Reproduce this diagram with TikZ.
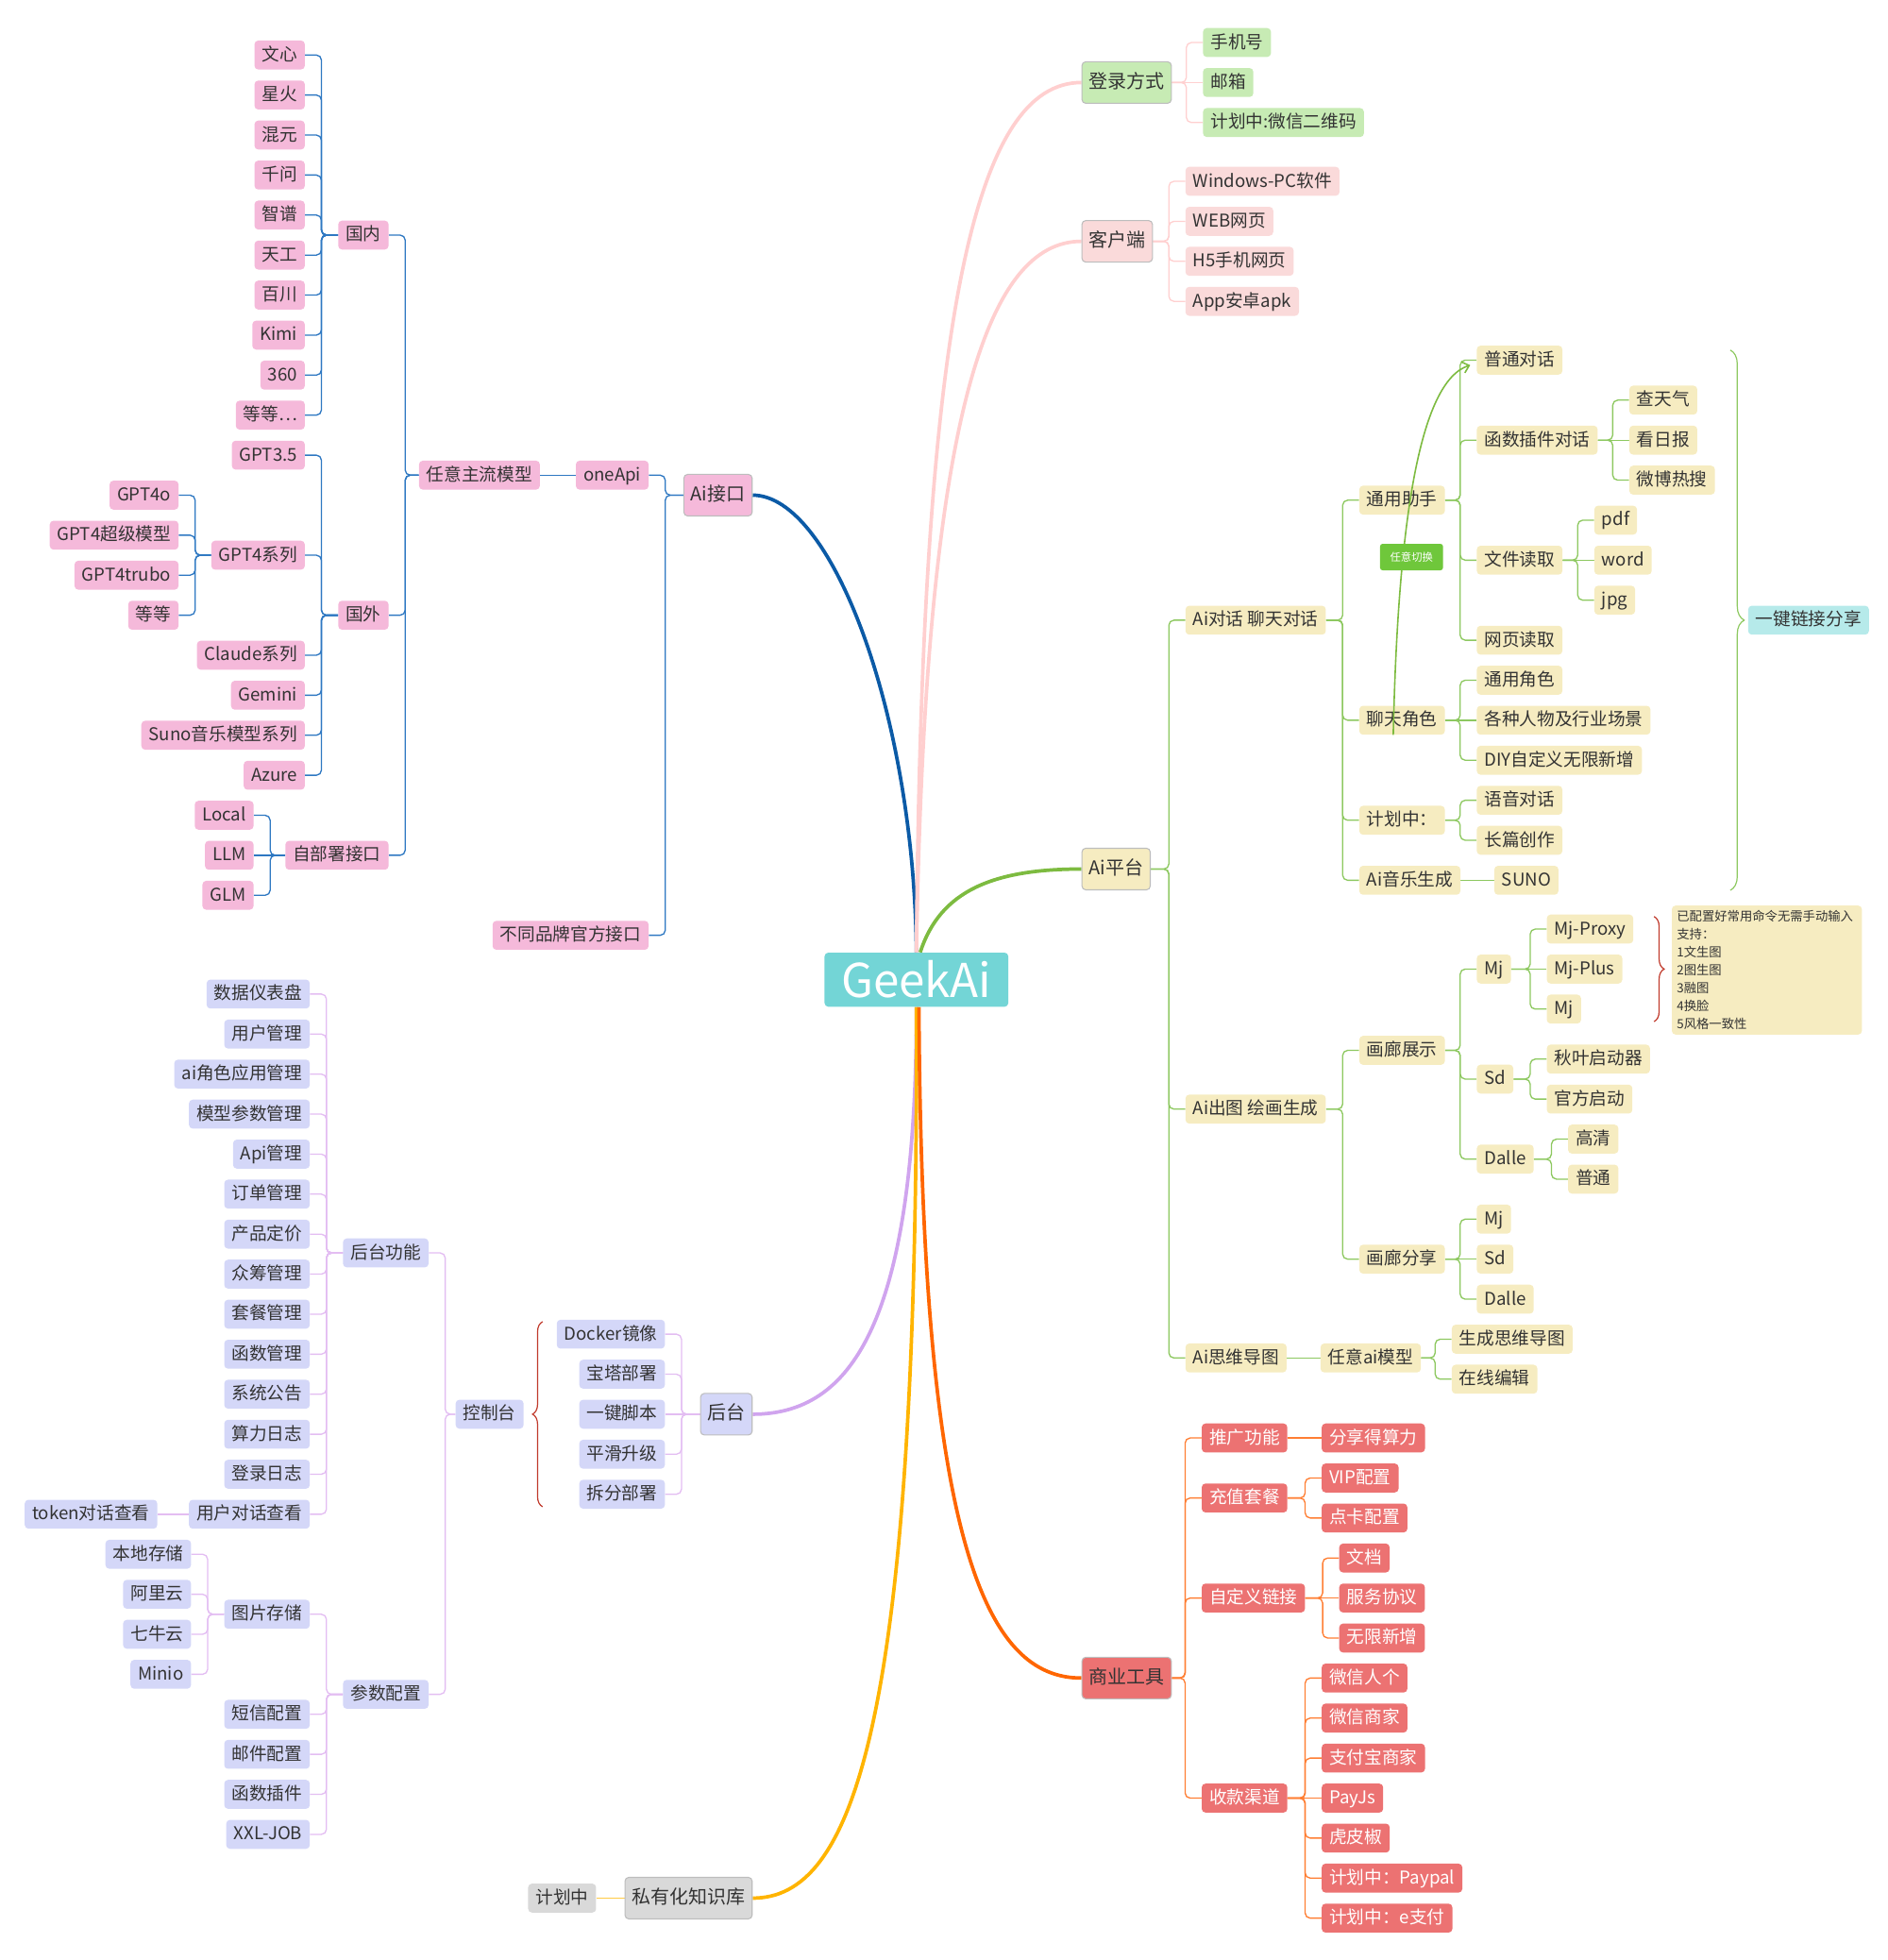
\documentclass[tikz,border=0pt]{standalone}
\usepackage{fontspec}
\setmainfont{Noto Sans CJK SC}
\usetikzlibrary{decorations.pathreplacing,arrows.meta,backgrounds}
\definecolor{txt}{HTML}{333333}
\definecolor{pkF}{HTML}{F5B9DA}
\definecolor{pkL}{HTML}{2E78C2}
\definecolor{pkM}{HTML}{0B5AA6}
\definecolor{lvF}{HTML}{D4D7F8}
\definecolor{lvL}{HTML}{E3BDF2}
\definecolor{lvM}{HTML}{D0A4EE}
\definecolor{gyF}{HTML}{D9D9D9}
\definecolor{gyL}{HTML}{FFCB45}
\definecolor{gyM}{HTML}{FFB400}
\definecolor{gnF}{HTML}{C7EBB4}
\definecolor{lpF}{HTML}{FADADA}
\definecolor{lpL}{HTML}{FFD0D0}
\definecolor{lpM}{HTML}{FFCFCF}
\definecolor{bgF}{HTML}{F6ECC1}
\definecolor{bgL}{HTML}{8DC860}
\definecolor{bgM}{HTML}{7DBB40}
\definecolor{rdF}{HTML}{EC7272}
\definecolor{rdL}{HTML}{FF7E33}
\definecolor{rdM}{HTML}{FF6600}
\definecolor{cyF}{HTML}{B6EAEA}
\definecolor{swF}{HTML}{6FC73B}
\definecolor{geekF}{HTML}{73D5D6}
\definecolor{brR}{HTML}{C0392B}
\definecolor{bdr}{HTML}{BDBDBD}
\newcommand\mkE[4]{\node[#1,anchor=east] (#2) at #3 {#4};}
\newcommand\mkW[4]{\node[#1,anchor=west] (#2) at #3 {#4};}
\newcommand\lnL[3]{\draw[#1] (#2.west) -| ([xshift=13pt]#3.east) -- (#3.east);}
\newcommand\lnR[3]{\draw[#1] (#2.east) -| ([xshift=-13pt]#3.west) -- (#3.west);}
\newcommand\lnLs[3]{\draw[#1] (#2.west) -- (#3.east);}
\newcommand\lnRs[3]{\draw[#1] (#2.east) -- (#3.west);}
\begin{document}
\begin{tikzpicture}[x=0.9933pt,y=-0.9933pt,
  box/.style={rectangle,rounded corners=3pt,inner xsep=6pt,inner ysep=0pt,minimum height=23pt,text height=11.5pt,text depth=2.5pt,font=\fontsize{14}{16}\selectfont,text=txt},
  mainbox/.style={box,draw=bdr,line width=0.8pt,minimum height=33pt,inner xsep=5.5pt,font=\fontsize{15}{17}\selectfont},
  pk/.style={box,fill=pkF},
  lv/.style={box,fill=lvF},
  gy/.style={box,fill=gyF},
  gn/.style={box,fill=gnF},
  lp/.style={box,fill=lpF},
  bg/.style={box,fill=bgF},
  rd/.style={box,fill=rdF,text=white},
  cy/.style={box,fill=cyF},
  thin/.style={line width=1pt,rounded corners=4pt},
  lnpk/.style={thin,draw=pkL},
  lnlv/.style={thin,draw=lvL},
  lngy/.style={thin,draw=gyL},
  lnlp/.style={thin,draw=lpL},
  lnbg/.style={thin,draw=bgL},
  lnrd/.style={thin,draw=rdL},
  mainln/.style={line width=2.8pt},
  bracestyle/.style={decorate,line width=0.9pt}
]
\useasboundingbox (0,0) rectangle (1510.1,1567.5);

% centre
\node[fill=geekF,text=white,rounded corners=3pt,minimum width=146pt,minimum height=43pt,inner sep=0pt,font=\fontsize{37}{40}\selectfont] (geek) at (733,783.5) {GeekAi};

% ---------- Ai接口 ----------
\mkE{pk,mainbox,fill=pkF}{aijk}{(602,396)}{Ai接口}
\mkE{pk}{oneapi}{(519,380)}{oneApi}
\mkE{pk}{butong}{(519,748)}{不同品牌官方接口}
\mkE{pk}{renyi}{(432,380)}{任意主流模型}
\mkE{pk}{guonei}{(311,188)}{国内}
\mkE{pk}{guowai}{(311,492)}{国外}
\mkE{pk}{zibu}{(311,684)}{自部署接口}
\mkE{pk}{wenxin}{(244,44)}{文心}
\mkE{pk}{xinghuo}{(244,76)}{星火}
\mkE{pk}{hunyuan}{(244,108)}{混元}
\mkE{pk}{qianwen}{(244,140)}{千问}
\mkE{pk}{zhipu}{(244,172)}{智谱}
\mkE{pk}{tiangong}{(244,204)}{天工}
\mkE{pk}{baichuan}{(244,236)}{百川}
\mkE{pk}{kimi}{(244,268)}{Kimi}
\mkE{pk}{sanliu}{(244,300)}{360}
\mkE{pk}{dengA}{(244,332)}{等等…}
\mkE{pk}{gptA}{(244,364)}{GPT3.5}
\mkE{pk}{gptB}{(244,444)}{GPT4系列}
\mkE{pk}{claude}{(244,524)}{Claude系列}
\mkE{pk}{gemini}{(244,556)}{Gemini}
\mkE{pk}{sunoA}{(244,588)}{Suno音乐模型系列}
\mkE{pk}{azure}{(244,620)}{Azure}
\mkE{pk}{gptC}{(143,396)}{GPT4o}
\mkE{pk}{gptD}{(143,428)}{GPT4超级模型}
\mkE{pk}{gptE}{(143,460)}{GPT4trubo}
\mkE{pk}{dengB}{(143,492)}{等等}
\mkE{pk}{local}{(203,652)}{Local}
\mkE{pk}{llm}{(203,684)}{LLM}
\mkE{pk}{glm}{(203,716)}{GLM}

% ---------- 后台 ----------
\mkE{lv,mainbox,fill=lvF}{houtai}{(602,1131)}{后台}
\mkE{lv}{docker}{(532,1067)}{Docker镜像}
\mkE{lv}{baota}{(532,1099)}{宝塔部署}
\mkE{lv}{yijian}{(532,1131)}{一键脚本}
\mkE{lv}{pinghua}{(532,1163)}{平滑升级}
\mkE{lv}{chaifen}{(532,1195)}{拆分部署}
\mkE{lv}{kongzhi}{(419,1131)}{控制台}
\mkE{lv}{htgn}{(343,1002)}{后台功能}
\mkE{lv}{canshu}{(343,1355)}{参数配置}
\mkE{lv}{hA}{(248,795)}{数据仪表盘}
\mkE{lv}{hB}{(248,827)}{用户管理}
\mkE{lv}{hC}{(248,859)}{ai角色应用管理}
\mkE{lv}{hD}{(248,891)}{模型参数管理}
\mkE{lv}{hE}{(248,923)}{Api管理}
\mkE{lv}{hF}{(248,955)}{订单管理}
\mkE{lv}{hG}{(248,987)}{产品定价}
\mkE{lv}{hH}{(248,1019)}{众筹管理}
\mkE{lv}{hI}{(248,1051)}{套餐管理}
\mkE{lv}{hJ}{(248,1083)}{函数管理}
\mkE{lv}{hK}{(248,1115)}{系统公告}
\mkE{lv}{hL}{(248,1147)}{算力日志}
\mkE{lv}{hM}{(248,1179)}{登录日志}
\mkE{lv}{hN}{(248,1211)}{用户对话查看}
\mkE{lv}{token}{(126,1211)}{token对话查看}
\mkE{lv}{tupian}{(248,1291)}{图片存储}
\mkE{lv}{duanxin}{(248,1371)}{短信配置}
\mkE{lv}{youjian}{(248,1403)}{邮件配置}
\mkE{lv}{hanshu}{(248,1435)}{函数插件}
\mkE{lv}{xxl}{(248,1467)}{XXL-JOB}
\mkE{lv}{bendi}{(153,1243)}{本地存储}
\mkE{lv}{aliyun}{(153,1275)}{阿里云}
\mkE{lv}{qiniu}{(153,1307)}{七牛云}
\mkE{lv}{minio}{(153,1339)}{Minio}

% ---------- 私有化知识库 ----------
\mkE{gy,mainbox,fill=gyF}{siyou}{(602,1518)}{私有化知识库}
\mkE{gy}{jihua}{(477,1518)}{计划中}

% ---------- 登录方式 / 客户端 ----------
\mkW{gn,mainbox,fill=gnF}{login}{(865,66)}{登录方式}
\mkW{gn}{shouji}{(962,34)}{手机号}
\mkW{gn}{youxiang}{(962,66)}{邮箱}
\mkW{gn}{weixin}{(962,98)}{计划中:微信二维码}
\mkW{lp,mainbox,fill=lpF}{client}{(865,193)}{客户端}
\mkW{lp}{win}{(948,145)}{Windows-PC软件}
\mkW{lp}{web}{(948,177)}{WEB网页}
\mkW{lp}{hfive}{(948,209)}{H5手机网页}
\mkW{lp}{app}{(948,241)}{App安卓apk}

% ---------- Ai平台 ----------
\mkW{bg,mainbox,fill=bgF}{aipt}{(865,695)}{Ai平台}
\mkW{bg}{aidh}{(948,496)}{Ai对话 聊天对话}
\mkW{bg}{aict}{(948,887)}{Ai出图 绘画生成}
\mkW{bg}{aisw}{(948,1086)}{Ai思维导图}
\mkW{bg}{tyzs}{(1087,400)}{通用助手}
\mkW{bg}{ltjs}{(1087,576)}{聊天角色}
\mkW{bg}{jhz}{(1087,656)}{计划中：}
\mkW{bg}{aiyy}{(1087,704)}{Ai音乐生成}
\mkW{bg}{ptdh}{(1181,288)}{普通对话}
\mkW{bg}{hscj}{(1181,352)}{函数插件对话}
\mkW{bg}{wjdq}{(1181,448)}{文件读取}
\mkW{bg}{wydq}{(1181,512)}{网页读取}
\mkW{bg}{ctq}{(1303,320)}{查天气}
\mkW{bg}{krb}{(1303,352)}{看日报}
\mkW{bg}{wbrs}{(1303,384)}{微博热搜}
\mkW{bg}{pdf}{(1275,416)}{pdf}
\mkW{bg}{word}{(1275,448)}{word}
\mkW{bg}{jpg}{(1275,480)}{jpg}
\mkW{bg}{tyjs}{(1181,544)}{通用角色}
\mkW{bg}{gzrw}{(1181,576)}{各种人物及行业场景}
\mkW{bg}{diy}{(1181,608)}{DIY自定义无限新增}
\mkW{bg}{yydh}{(1181,640)}{语音对话}
\mkW{bg}{cpcz}{(1181,672)}{长篇创作}
\mkW{bg}{sunoB}{(1195,704)}{SUNO}
\mkW{cy}{share}{(1398,496)}{一键链接分享}
\mkW{bg}{hlzs}{(1087,840)}{画廊展示}
\mkW{bg}{hlfx}{(1087,1007)}{画廊分享}
\mkW{bg}{mjA}{(1181,775)}{Mj}
\mkW{bg}{sdA}{(1181,863)}{Sd}
\mkW{bg}{dalleA}{(1181,927)}{Dalle}
\mkW{bg}{mjproxy}{(1237,743)}{Mj-Proxy}
\mkW{bg}{mjplus}{(1237,775)}{Mj-Plus}
\mkW{bg}{mjB}{(1237,807)}{Mj}
\mkW{bg}{qiuye}{(1237,847)}{秋叶启动器}
\mkW{bg}{guanfang}{(1237,879)}{官方启动}
\mkW{bg}{gaoqing}{(1254,911)}{高清}
\mkW{bg}{putong}{(1254,943)}{普通}
\mkW{bg}{mjC}{(1181,975)}{Mj}
\mkW{bg}{sdC}{(1181,1007)}{Sd}
\mkW{bg}{dalleC}{(1181,1039)}{Dalle}
\mkW{bg}{rymx}{(1056,1086)}{任意ai模型}
\mkW{bg}{scsw}{(1161,1071)}{生成思维导图}
\mkW{bg}{zxbj}{(1161,1103)}{在线编辑}
\node[fill=bgF,rounded corners=3pt,anchor=north west,align=left,text width=143pt,inner xsep=4pt,inner ysep=4pt,font=\fontsize{10}{14.2}\selectfont,text=txt] (note) at (1337,724) {已配置好常用命令无需手动输入\\支持：\\1文生图\\2图生图\\3融图\\4换脸\\5风格一致性};

% ---------- 商业工具 ----------
\mkW{rd,mainbox,fill=rdF}{shangye}{(865,1342)}{商业工具}
\mkW{rd}{tggn}{(961,1150)}{推广功能}
\mkW{rd}{czdc}{(961,1198)}{充值套餐}
\mkW{rd}{zdy}{(961,1278)}{自定义链接}
\mkW{rd}{skqd}{(961,1438)}{收款渠道}
\mkW{rd}{fxsl}{(1057,1150)}{分享得算力}
\mkW{rd}{vip}{(1057,1182)}{VIP配置}
\mkW{rd}{dianka}{(1057,1214)}{点卡配置}
\mkW{rd}{wendang}{(1071,1246)}{文档}
\mkW{rd}{fwxy}{(1071,1278)}{服务协议}
\mkW{rd}{wxxz}{(1071,1310)}{无限新增}
\mkW{rd}{pA}{(1057,1342)}{微信人个}
\mkW{rd}{pB}{(1057,1374)}{微信商家}
\mkW{rd}{pC}{(1057,1406)}{支付宝商家}
\mkW{rd}{pD}{(1057,1438)}{PayJs}
\mkW{rd}{pE}{(1057,1470)}{虎皮椒}
\mkW{rd}{pF}{(1057,1502)}{计划中：Paypal}
\mkW{rd}{pG}{(1057,1534)}{计划中：e支付}

% brace end points
\coordinate (brA1) at (434,1205);
\coordinate (brA2) at (434,1057);
\coordinate (brB1) at (1323,733);
\coordinate (brB2) at (1323,817);
\coordinate (brC1) at (1384,280);
\coordinate (brC2) at (1384,712);

\begin{pgfonlayer}{background}
% main branches
\draw[mainln,pkM] (geek.north) .. controls (731,570) and (665,396) .. (aijk.east);
\draw[mainln,lpM] (geek.north) .. controls (737,250) and (780,66) .. (login.west);
\draw[mainln,lpM] (geek.north) .. controls (740,330) and (790,193) .. (client.west);
\draw[mainln,bgM] ([xshift=3pt]geek.north) .. controls (752,712) and (795,695) .. (aipt.west);
\draw[mainln,lvM] (geek.south) .. controls (733,1060) and (680,1131) .. (houtai.east);
\draw[mainln,gyM] (geek.south) .. controls (735,1390) and (680,1518) .. (siyou.east);
\draw[mainln,rdM] ([xshift=2pt]geek.south) .. controls (737,1240) and (790,1342) .. (shangye.west);

% Ai接口 tree
\lnL{lnpk}{aijk}{oneapi}
\lnL{lnpk}{aijk}{butong}
\lnLs{lnpk}{oneapi}{renyi}
\foreach \c in {guonei,guowai,zibu} {\lnL{lnpk}{renyi}{\c}}
\foreach \c in {wenxin,xinghuo,hunyuan,qianwen,zhipu,tiangong,baichuan,kimi,sanliu,dengA} {\lnL{lnpk}{guonei}{\c}}
\foreach \c in {gptA,gptB,claude,gemini,sunoA,azure} {\lnL{lnpk}{guowai}{\c}}
\foreach \c in {gptC,gptD,gptE,dengB} {\lnL{lnpk}{gptB}{\c}}
\foreach \c in {local,glm} {\lnL{lnpk}{zibu}{\c}}
\lnLs{lnpk}{zibu}{llm}

% 后台 tree
\foreach \c in {docker,baota,pinghua,chaifen} {\lnL{lnlv}{houtai}{\c}}
\lnLs{lnlv}{houtai}{yijian}
\foreach \c in {htgn,canshu} {\lnL{lnlv}{kongzhi}{\c}}
\foreach \c in {hA,hB,hC,hD,hE,hF,hG,hH,hI,hJ,hK,hL,hM,hN} {\lnL{lnlv}{htgn}{\c}}
\lnLs{lnlv}{hN}{token}
\foreach \c in {tupian,duanxin,youjian,hanshu,xxl} {\lnL{lnlv}{canshu}{\c}}
\foreach \c in {bendi,aliyun,qiniu,minio} {\lnL{lnlv}{tupian}{\c}}

% 私有化知识库
\lnLs{lngy}{siyou}{jihua}

% 登录方式 / 客户端
\foreach \c in {shouji,weixin} {\lnR{lnlp}{login}{\c}}
\lnRs{lnlp}{login}{youxiang}
\foreach \c in {win,web,hfive,app} {\lnR{lnlp}{client}{\c}}

% Ai平台 tree
\foreach \c in {aidh,aict,aisw} {\lnR{lnbg}{aipt}{\c}}
\foreach \c in {tyzs,ltjs,jhz,aiyy} {\lnR{lnbg}{aidh}{\c}}
\foreach \c in {ptdh,hscj,wjdq,wydq} {\lnR{lnbg}{tyzs}{\c}}
\foreach \c in {ctq,wbrs} {\lnR{lnbg}{hscj}{\c}}
\lnRs{lnbg}{hscj}{krb}
\foreach \c in {pdf,jpg} {\lnR{lnbg}{wjdq}{\c}}
\lnRs{lnbg}{wjdq}{word}
\foreach \c in {tyjs,diy} {\lnR{lnbg}{ltjs}{\c}}
\lnRs{lnbg}{ltjs}{gzrw}
\foreach \c in {yydh,cpcz} {\lnR{lnbg}{jhz}{\c}}
\lnRs{lnbg}{aiyy}{sunoB}
\foreach \c in {hlzs,hlfx} {\lnR{lnbg}{aict}{\c}}
\foreach \c in {mjA,sdA,dalleA} {\lnR{lnbg}{hlzs}{\c}}
\foreach \c in {mjproxy,mjB} {\lnR{lnbg}{mjA}{\c}}
\lnRs{lnbg}{mjA}{mjplus}
\foreach \c in {qiuye,guanfang} {\lnR{lnbg}{sdA}{\c}}
\foreach \c in {gaoqing,putong} {\lnR{lnbg}{dalleA}{\c}}
\foreach \c in {mjC,dalleC} {\lnR{lnbg}{hlfx}{\c}}
\lnRs{lnbg}{hlfx}{sdC}
\lnRs{lnbg}{aisw}{rymx}
\foreach \c in {scsw,zxbj} {\lnR{lnbg}{rymx}{\c}}

% 商业工具 tree
\foreach \c in {tggn,czdc,zdy,skqd} {\lnR{lnrd}{shangye}{\c}}
\lnRs{lnrd}{tggn}{fxsl}
\foreach \c in {vip,dianka} {\lnR{lnrd}{czdc}{\c}}
\foreach \c in {wendang,wxxz} {\lnR{lnrd}{zdy}{\c}}
\lnRs{lnrd}{zdy}{fwxy}
\foreach \c in {pA,pB,pC,pE,pF,pG} {\lnR{lnrd}{skqd}{\c}}
\lnRs{lnrd}{skqd}{pD}
\end{pgfonlayer}

% summary braces
\draw[bracestyle,brR,decoration={brace,amplitude=8pt}] (brA1) -- (brA2);
\draw[bracestyle,brR,decoration={brace,amplitude=8pt}] (brB1) -- (brB2);
\draw[bracestyle,bgL,decoration={brace,amplitude=11pt}] (brC1) -- (brC2);

% relationship arrow
\draw[line width=1.2pt,bgM,-{Straight Barb[length=5pt,width=9pt]}] ([xshift=-7pt]ltjs.south) .. controls (1118,420) and (1135,305) .. ([xshift=-5pt,yshift=-4pt]ptdh.west);
\node[fill=swF,text=white,rounded corners=2pt,minimum width=50pt,minimum height=21pt,inner sep=0pt,font=\fontsize{8.5}{10}\selectfont] (rysw) at (1129,445.5) {任意切换};
\end{tikzpicture}
\end{document}
